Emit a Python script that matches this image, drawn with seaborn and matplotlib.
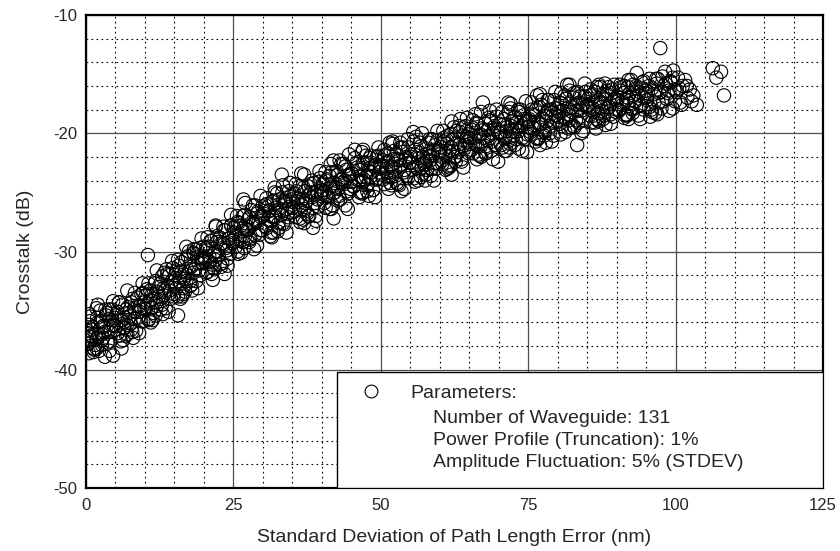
import seaborn as sns
import matplotlib.pyplot as plt
import numpy as np
import pandas as pd
from matplotlib.ticker import MultipleLocator
from matplotlib.patches import Rectangle
from matplotlib.lines import Line2D

# path length error (nm) / crosstalk (dB) in chunks
err_a = [0.2, 0.4, 0.5, 0.7, 0.9, 1.1, 1.3, 1.8, 1.8, 2.0, 2.2, 2.5, 2.7, 3.0, 3.2, 3.5, 3.8, 4.1, 4.4, 4.7, 0.3, 1.6, 2.9, 4.0, 4.6,
         5.1, 5.4, 5.6, 5.9, 6.2, 6.5, 6.8, 7.0, 7.3, 7.6, 7.9, 8.2, 8.5, 8.8, 9.1, 9.4, 9.7, 9.9, 6.0, 8.0,
         10.1, 10.3, 10.6, 10.9, 11.2, 11.5, 11.8, 12.0, 12.3, 12.6, 12.9, 13.2, 13.5, 13.8, 14.1, 14.4, 14.7, 14.9, 11.0, 13.0, 10.5,
         15.1, 15.3, 15.6, 15.9, 16.2, 16.5, 16.8, 17.0, 17.3, 17.6, 17.9, 18.2, 18.5, 18.8, 19.1, 19.4, 19.7, 19.9, 16.0, 18.0, 15.6,
         20.1, 20.4, 20.7, 21.0, 21.3, 21.6, 21.9, 22.2, 22.5, 22.8, 23.1, 23.4, 23.7, 24.0, 24.3, 24.6, 24.9, 21.5, 23.5, 22.0]
xt_a = [-37.8, -36.2, -38.6, -35.5, -37.1, -36.6, -38.2, -34.8, -37.4, -36.0, -38.4, -35.9, -37.0, -36.4, -38.9, -35.2, -36.8, -37.6, -35.8, -36.3, -36.9, -37.9, -37.3, -34.9, -38.8,
        -35.4, -36.9, -34.3, -37.6, -35.8, -36.4, -34.9, -37.0, -35.2, -36.1, -34.0, -35.7, -36.7, -34.6, -35.1, -33.6, -35.9, -34.3, -38.2, -37.3,
        -34.9, -33.2, -35.8, -34.1, -33.6, -35.2, -32.5, -34.6, -33.0, -34.0, -32.1, -33.7, -34.8, -31.9, -33.3, -32.6, -31.4, -33.8, -36.0, -35.3, -30.3,
        -32.9, -31.6, -33.8, -32.2, -30.9, -33.1, -31.7, -32.5, -30.4, -31.2, -32.8, -30.1, -31.5, -29.8, -31.0, -32.0, -30.6, -29.6, -34.0, -33.3, -35.4,
        -30.5, -31.8, -29.6, -30.9, -29.1, -31.4, -30.0, -28.7, -30.3, -29.4, -31.0, -28.2, -29.7, -30.6, -28.9, -27.8, -29.3, -32.4, -31.9, -27.9]

err_b = [25.1, 25.4, 25.7, 26.0, 26.3, 26.6, 26.9, 27.2, 27.5, 27.8, 28.1, 28.4, 28.7, 29.0, 29.3, 29.6, 29.9, 26.7, 28.5, 25.8,
         30.1, 30.4, 30.7, 31.0, 31.3, 31.6, 31.9, 32.2, 32.5, 32.8, 33.1, 33.4, 33.7, 34.0, 34.3, 34.6, 34.9, 33.2, 33.4, 31.5, 32.0,
         35.1, 35.4, 35.7, 36.0, 36.3, 36.6, 36.9, 37.2, 37.5, 37.8, 38.1, 38.4, 38.7, 39.0, 39.3, 39.6, 39.9, 38.5, 36.5, 37.0,
         40.1, 40.4, 40.7, 41.0, 41.3, 41.6, 41.9, 42.2, 42.5, 42.8, 43.1, 43.4, 43.7, 44.0, 44.3, 44.6, 44.9, 44.4, 43.0, 41.5, 42.0,
         45.1, 45.4, 45.6, 46.0, 46.3, 46.6, 46.9, 47.2, 47.5, 47.8, 48.1, 48.4, 48.7, 49.0, 49.3, 49.6, 49.9, 46.8, 48.0, 47.0]
xt_b = [-28.4, -29.6, -27.5, -28.9, -27.8, -29.2, -26.9, -28.1, -27.3, -29.0, -26.5, -27.7, -28.6, -26.8, -27.4, -28.2, -26.2, -25.6, -29.8, -30.2,
        -27.0, -26.1, -28.0, -26.6, -27.4, -25.8, -27.0, -26.3, -28.3, -25.6, -26.9, -27.6, -25.9, -26.4, -27.1, -25.4, -26.7, -23.5, -24.4, -28.8, -25.0,
        -25.8, -26.6, -24.9, -25.5, -27.2, -26.1, -24.6, -25.9, -26.8, -25.2, -24.3, -26.3, -25.0, -27.0, -25.6, -24.1, -25.3, -28.0, -23.4, -27.6,
        -24.8, -25.9, -24.0, -25.3, -23.6, -26.4, -24.5, -25.0, -23.2, -24.7, -25.6, -23.9, -24.3, -22.8, -24.9, -23.5, -24.1, -26.4, -22.3, -22.6, -27.2,
        -23.4, -24.5, -21.4, -22.9, -24.0, -23.1, -25.0, -22.5, -23.7, -24.3, -22.1, -23.3, -24.8, -22.7, -23.9, -21.9, -23.0, -21.6, -25.3, -24.1]

err_c = [50.1, 50.4, 50.7, 51.0, 51.3, 51.6, 51.9, 52.2, 52.5, 52.8, 53.1, 53.4, 53.7, 54.0, 54.3, 54.6, 54.9, 52.0, 53.5, 51.5, 53.3,
         55.1, 55.4, 55.5, 55.8, 56.2, 56.5, 56.8, 57.1, 57.5, 57.8, 58.1, 58.4, 58.7, 59.0, 59.3, 59.6, 59.9, 57.5, 56.0, 58.5,
         60.1, 60.4, 60.7, 61.0, 61.3, 61.6, 61.9, 62.2, 62.5, 62.8, 63.1, 63.4, 63.7, 64.0, 64.3, 64.6, 64.9, 62.0, 63.5, 61.0,
         65.1, 65.4, 65.7, 66.0, 66.3, 66.6, 66.9, 67.3, 67.5, 67.8, 68.1, 68.4, 68.7, 69.0, 69.3, 69.6, 69.9, 66.0, 68.5, 67.0,
         70.1, 70.4, 70.7, 71.0, 71.3, 71.6, 71.9, 72.2, 72.5, 72.8, 73.1, 73.4, 73.7, 74.0, 74.3, 74.8, 74.9, 72.0, 73.5, 71.0]
xt_c = [-22.8, -23.9, -21.9, -23.3, -22.4, -24.2, -22.9, -21.5, -23.6, -22.2, -24.4, -22.7, -21.2, -23.1, -22.0, -23.8, -22.5, -20.9, -24.9, -20.8, -20.8,
        -22.0, -23.1, -19.9, -24.1, -21.6, -22.7, -21.1, -23.4, -22.6, -22.2, -20.8, -21.9, -23.0, -21.4, -22.5, -20.6, -21.8, -24.0, -20.3, -23.6,
        -21.5, -22.6, -20.7, -21.9, -20.2, -22.9, -21.2, -20.5, -22.0, -19.8, -21.6, -20.9, -22.4, -19.5, -21.0, -20.3, -21.7, -23.5, -18.8, -23.1,
        -20.4, -21.4, -19.6, -20.9, -19.2, -21.8, -20.1, -17.4, -19.7, -21.1, -20.6, -18.9, -21.5, -20.0, -19.4, -21.0, -22.4, -18.4, -18.1, -22.0,
        -20.0, -21.0, -19.3, -20.5, -19.8, -17.4, -20.9, -19.0, -20.2, -18.6, -19.6, -21.3, -19.1, -20.4, -18.8, -21.6, -19.5, -17.9, -18.2, -21.5]

err_d = [75.1, 75.4, 75.7, 76.0, 76.3, 76.6, 76.9, 77.2, 77.5, 77.8, 78.1, 78.4, 78.7, 79.0, 79.3, 79.6, 79.9, 76.5, 78.0, 77.0,
         80.1, 80.4, 80.7, 81.0, 81.3, 81.6, 81.9, 82.2, 82.5, 82.8, 83.1, 83.3, 83.7, 84.0, 84.3, 84.6, 84.9, 82.0, 83.5, 80.5,
         85.1, 85.4, 85.7, 86.0, 86.3, 86.6, 86.9, 87.2, 87.5, 87.8, 88.1, 88.4, 88.7, 89.0, 89.3, 89.6, 89.9, 86.5, 88.0, 87.0,
         90.1, 90.4, 90.7, 91.0, 91.3, 91.6, 91.9, 92.2, 92.5, 92.8, 93.1, 93.4, 93.7, 94.0, 94.3, 94.6, 94.9, 95.7, 92.0,
         95.1, 95.5, 96.0, 96.4, 96.8, 97.2, 97.4, 97.6, 98.0, 98.2, 98.5, 98.8, 99.2, 99.6, 99.9, 96.0, 97.0,
         100.2, 100.4, 100.8, 101.2, 101.6, 102.0, 102.4, 103.0, 103.6, 106.3, 106.9, 107.7, 108.2]
xt_d = [-19.0, -20.1, -18.4, -19.6, -18.0, -20.5, -19.2, -17.6, -18.8, -19.9, -18.3, -17.2, -19.4, -18.6, -20.2, -17.9, -18.9, -16.8, -20.8, -21.0,
        -18.2, -19.2, -17.5, -18.7, -17.1, -15.9, -18.4, -19.5, -17.8, -16.6, -18.9, -21.0, -17.4, -18.1, -19.8, -16.9, -17.7, -16.4, -19.1, -20.1,
        -17.6, -18.5, -16.8, -17.9, -16.5, -18.8, -17.2, -16.1, -18.1, -17.5, -19.3, -16.7, -17.8, -18.4, -16.3, -17.1, -18.0, -19.6, -15.8, -19.0,
        -17.2, -18.1, -16.4, -17.6, -16.0, -18.4, -17.0, -16.6, -17.9, -15.9, -17.3, -14.9, -16.8, -17.7, -16.2, -18.0, -16.6, -18.6, -18.8,
        -16.9, -17.8, -16.2, -17.4, -15.8, -16.6, -12.8, -17.9, -16.0, -14.8, -17.1, -16.4, -15.7, -14.7, -17.3, -18.2, -15.4,
        -16.5, -15.3, -17.4, -16.0, -15.5, -17.0, -16.3, -16.8, -17.6, -14.5, -15.3, -14.8, -16.8]

# second pass over the dense core of the cloud
err_e = [0.15, 0.4, 0.65, 0.9, 1.15, 1.4, 1.65, 1.9, 2.15, 2.4, 2.65, 2.9, 3.15, 3.4, 3.65, 3.9, 4.15, 4.4, 4.65, 4.85,
         5.1, 5.35, 5.7, 5.85, 6.2, 6.45, 6.6, 6.95, 7.1, 7.45, 7.7, 7.85, 8.2, 8.35, 8.7, 8.85, 9.2, 9.35, 9.7, 9.9,
         10.15, 10.4, 10.65, 10.9, 11.15, 11.4, 11.65, 11.9, 12.15, 12.4, 12.65, 12.9, 13.15, 13.4, 13.65, 13.9, 14.15, 14.4, 14.65, 14.85,
         15.1, 15.35, 15.7, 15.85, 16.2, 16.45, 16.6, 16.95, 17.1, 17.45, 17.7, 17.85, 18.2, 18.35, 18.7, 18.85, 19.2, 19.35, 19.7, 19.9,
         20.15, 20.4, 20.65, 20.9, 21.15, 21.4, 21.65, 21.9, 22.15, 22.4, 22.65, 22.9, 23.15, 23.4, 23.65, 23.9, 24.15, 24.4, 24.65, 24.85]
xt_e = [-36.7, -37.8, -35.9, -37.2, -36.4, -38.3, -37.0, -35.6, -37.0, -35.0, -37.5, -36.3, -36.8, -35.4, -37.7, -35.7, -36.8, -34.9, -36.2, -35.6,
        -36.3, -35.1, -37.1, -35.8, -34.5, -36.5, -35.6, -36.2, -34.7, -35.5, -34.3, -36.8, -34.8, -35.1, -33.9, -35.6, -34.6, -35.9, -33.5, -34.8,
        -33.7, -34.4, -35.7, -33.3, -34.8, -34.0, -32.7, -34.3, -33.4, -33.8, -32.7, -34.5, -33.1, -33.3, -31.5, -32.9, -32.0, -34.0, -32.5, -33.6,
        -32.0, -33.1, -31.2, -32.5, -31.7, -33.6, -32.3, -30.6, -32.0, -30.0, -32.5, -31.3, -31.8, -30.2, -32.5, -30.5, -31.6, -29.7, -31.0, -30.4,
        -30.9, -29.7, -31.7, -30.4, -29.1, -31.1, -30.2, -30.7, -29.2, -30.0, -28.8, -31.3, -29.3, -29.4, -28.2, -29.9, -28.9, -30.2, -27.8, -29.1]

err_f = [25.1, 25.35, 25.7, 25.85, 26.2, 26.45, 26.6, 26.95, 27.1, 27.45, 27.7, 27.85, 28.2, 28.35, 28.7, 28.85, 29.2, 29.35, 29.7, 29.9,
         30.15, 30.4, 30.65, 30.9, 31.15, 31.4, 31.65, 31.9, 32.15, 32.4, 32.65, 32.9, 33.15, 33.4, 33.65, 33.9, 34.15, 34.4, 34.65, 34.85,
         35.1, 35.35, 35.7, 35.85, 36.2, 36.45, 36.6, 36.95, 37.1, 37.45, 37.7, 37.85, 38.2, 38.35, 38.7, 38.85, 39.2, 39.35, 39.7, 39.9,
         40.15, 40.4, 40.65, 40.9, 41.15, 41.4, 41.65, 41.9, 42.15, 42.4, 42.65, 42.9, 43.15, 43.4, 43.65, 43.9, 44.15, 44.4, 44.65, 44.85,
         45.1, 45.35, 45.7, 45.85, 46.2, 46.45, 46.6, 46.95, 47.1, 47.45, 47.7, 47.85, 48.2, 48.35, 48.7, 48.85, 49.2, 49.35, 49.7, 49.9]
xt_f = [-28.0, -28.7, -30.0, -27.6, -29.1, -28.3, -27.0, -28.7, -27.8, -28.2, -27.1, -28.9, -27.5, -27.7, -26.1, -27.5, -26.6, -28.6, -27.1, -28.2,
        -26.8, -27.9, -26.0, -27.3, -26.5, -28.4, -27.1, -25.7, -27.1, -25.1, -27.6, -26.4, -26.9, -25.7, -27.7, -25.7, -26.8, -24.9, -26.2, -25.6,
        -26.3, -25.1, -27.1, -25.8, -24.5, -26.5, -25.6, -26.4, -24.9, -25.7, -24.5, -27.0, -25.0, -25.4, -24.2, -25.9, -24.9, -26.2, -23.8, -25.1,
        -24.3, -25.0, -26.3, -23.9, -25.4, -24.6, -23.3, -25.1, -24.2, -24.6, -23.5, -25.3, -23.9, -24.2, -22.6, -24.0, -23.1, -25.1, -23.6, -24.7,
        -23.4, -24.5, -22.6, -23.9, -23.1, -25.0, -23.7, -22.5, -23.9, -21.9, -24.4, -23.2, -23.7, -22.5, -24.8, -22.8, -23.9, -22.0, -23.3, -22.7]

err_g = [50.15, 50.4, 50.65, 50.9, 51.15, 51.4, 51.65, 51.9, 52.15, 52.4, 52.65, 52.9, 53.15, 53.4, 53.65, 53.9, 54.15, 54.4, 54.65, 54.85,
         55.1, 55.35, 55.7, 55.85, 56.2, 56.45, 56.6, 56.95, 57.1, 57.45, 57.7, 57.85, 58.2, 58.35, 58.7, 58.85, 59.2, 59.35, 59.7, 59.9,
         60.15, 60.4, 60.65, 60.9, 61.15, 61.4, 61.65, 61.9, 62.15, 62.4, 62.65, 62.9, 63.15, 63.4, 63.65, 63.9, 64.15, 64.4, 64.65, 64.85,
         65.1, 65.35, 65.7, 65.85, 66.2, 66.45, 66.6, 66.95, 67.1, 67.45, 67.7, 67.85, 68.2, 68.35, 68.7, 68.85, 69.2, 69.35, 69.7, 69.9,
         70.15, 70.4, 70.65, 70.9, 71.15, 71.4, 71.65, 71.9, 72.15, 72.4, 72.65, 72.9, 73.15, 73.4, 73.65, 73.9, 74.15, 74.4, 74.65, 74.85]
xt_g = [-23.5, -22.3, -24.3, -23.0, -21.7, -23.7, -22.8, -23.7, -22.2, -23.0, -21.8, -24.3, -22.3, -22.8, -21.6, -23.3, -22.3, -23.6, -21.2, -22.5,
        -21.8, -22.5, -23.8, -21.4, -22.9, -22.1, -20.8, -22.9, -22.0, -22.4, -21.3, -23.1, -21.7, -22.3, -20.5, -21.9, -21.0, -23.0, -21.5, -22.6,
        -21.2, -22.3, -20.4, -21.7, -20.9, -22.8, -21.5, -20.1, -21.5, -19.5, -22.0, -20.8, -21.3, -19.9, -22.2, -20.2, -21.3, -19.4, -20.7, -20.1,
        -20.9, -19.7, -21.7, -20.4, -19.1, -21.1, -20.2, -21.1, -19.6, -20.4, -19.2, -21.7, -19.7, -20.2, -19.0, -20.7, -19.7, -21.0, -18.6, -19.9,
        -19.2, -19.9, -21.2, -18.8, -20.3, -19.5, -18.2, -20.3, -19.4, -19.8, -18.7, -20.5, -19.1, -19.8, -18.0, -19.4, -18.5, -20.5, -19.0, -20.1]

err_h = [75.15, 75.4, 75.65, 75.9, 76.15, 76.4, 76.65, 76.9, 77.15, 77.4, 77.65, 77.9, 78.15, 78.4, 78.65, 78.9, 79.15, 79.4, 79.65, 79.85,
         80.1, 80.35, 80.7, 80.85, 81.2, 81.45, 81.6, 81.95, 82.1, 82.45, 82.7, 82.85, 83.2, 83.35, 83.7, 83.85, 84.2, 84.35, 84.7, 84.9,
         85.15, 85.4, 85.65, 85.9, 86.15, 86.4, 86.65, 86.9, 87.15, 87.4, 87.65, 87.9, 88.15, 88.4, 88.65, 88.9, 89.15, 89.4, 89.65, 89.85,
         90.1, 90.35, 90.7, 90.85, 91.2, 91.45, 91.6, 91.95, 92.1, 92.45, 92.7, 92.85, 93.2, 93.35, 93.7, 93.85, 94.2, 94.35, 94.7, 94.9,
         95.15, 95.5, 95.9, 96.3, 96.7, 97.1, 97.5, 97.9, 98.3, 98.7, 99.1, 99.5, 99.8, 96.5,
         100.6, 101.0, 101.9, 102.7]
xt_h = [-18.8, -19.9, -18.0, -19.3, -18.5, -20.4, -19.1, -17.8, -19.2, -17.2, -19.7, -18.5, -19.0, -18.0, -20.0, -18.0, -19.1, -17.2, -18.5, -17.9,
        -18.6, -17.4, -19.4, -18.1, -16.8, -18.8, -17.9, -18.9, -17.4, -18.2, -17.0, -19.5, -17.5, -18.1, -16.9, -18.6, -17.6, -18.9, -16.5, -17.8,
        -17.1, -17.8, -19.1, -16.7, -18.2, -17.4, -16.1, -18.3, -17.4, -17.8, -16.7, -18.5, -17.1, -17.9, -16.1, -17.5, -16.6, -18.6, -17.1, -18.2,
        -16.9, -18.0, -16.1, -17.4, -16.6, -18.5, -17.2, -16.1, -17.5, -15.5, -18.0, -16.8, -17.3, -16.2, -18.5, -16.5, -17.6, -15.7, -17.0, -16.4,
        -17.2, -16.0, -18.0, -16.7, -15.4, -17.4, -16.5, -17.3, -15.8, -16.6, -15.6, -17.9, -16.3, -18.3,
        -16.2, -17.6, -16.0, -17.3]

# points along the upper and lower fringe of the band
err_i = [0.6, 1.3, 2.0, 2.7, 3.3, 4.0, 4.6, 1.8,
         5.6, 6.3, 7.0, 7.7, 8.3, 9.0, 9.6, 6.8,
         10.6, 11.3, 12.0, 12.7, 13.3, 14.0, 14.6, 11.8,
         15.6, 16.3, 17.0, 17.7, 18.3, 19.0, 19.6, 16.8,
         20.6, 21.3, 22.0, 22.7, 23.3, 24.0, 24.6, 21.8,
         25.6, 26.3, 27.0, 27.7, 28.3, 29.0, 29.6, 26.8,
         30.6, 31.3, 32.0, 32.7, 33.3, 34.0, 34.6, 31.8,
         35.6, 36.3, 37.0, 37.7, 38.3, 39.0, 39.6, 36.8,
         40.6, 41.3, 42.0, 42.7, 43.3, 44.0, 44.6, 41.8,
         45.6, 46.3, 47.0, 47.7, 48.3, 49.0, 49.6, 46.8]
xt_i = [-35.3, -38.5, -34.5, -37.9, -34.9, -38.4, -34.2, -38.2,
        -34.3, -37.5, -33.3, -36.6, -33.5, -36.9, -32.7, -37.1,
        -32.7, -35.8, -31.6, -34.9, -31.8, -35.1, -30.8, -35.4,
        -30.7, -33.8, -29.6, -32.9, -29.8, -33.1, -28.9, -33.4,
        -28.8, -31.9, -27.8, -31.1, -27.9, -31.2, -26.9, -31.5,
        -27.0, -30.1, -25.9, -29.2, -26.1, -29.5, -25.3, -29.7,
        -25.5, -28.7, -24.6, -28.0, -25.0, -28.4, -24.2, -28.4,
        -24.3, -27.5, -23.5, -27.0, -24.0, -27.4, -23.2, -27.3,
        -23.3, -26.4, -22.3, -25.7, -22.6, -26.1, -21.8, -26.1,
        -22.1, -25.4, -21.4, -24.9, -21.9, -25.4, -21.2, -25.1]

err_j = [50.6, 51.3, 52.0, 52.7, 53.3, 54.0, 54.6, 51.8,
         55.6, 56.3, 57.0, 57.7, 58.3, 59.0, 59.6, 56.8,
         60.6, 61.3, 62.0, 62.7, 63.3, 64.0, 64.6, 61.8,
         65.6, 66.3, 67.0, 67.7, 68.3, 69.0, 69.6, 66.8,
         70.6, 71.3, 72.0, 72.7, 73.3, 74.0, 74.6, 71.8,
         75.6, 76.3, 77.0, 77.7, 78.3, 79.0, 79.6, 76.8,
         80.6, 81.3, 82.0, 82.7, 83.3, 84.0, 84.6, 81.8,
         85.6, 86.3, 87.0, 87.7, 88.3, 89.0, 89.6, 86.8,
         90.6, 91.3, 92.0, 92.7, 93.3, 94.0, 94.6, 91.8,
         95.6, 96.9, 97.8, 98.9, 99.5]
xt_j = [-21.4, -24.7, -20.7, -24.2, -21.2, -24.7, -20.5, -24.4,
        -20.7, -24.0, -20.0, -23.5, -20.5, -24.0, -19.8, -23.7,
        -19.8, -23.0, -19.0, -22.4, -19.4, -22.9, -18.7, -22.7,
        -18.9, -22.2, -18.2, -21.7, -18.7, -22.2, -18.0, -21.9,
        -18.2, -21.5, -17.5, -21.0, -18.0, -21.5, -17.3, -21.2,
        -17.4, -20.7, -16.7, -20.2, -17.2, -20.7, -16.5, -20.4,
        -16.6, -19.9, -15.9, -19.4, -16.5, -20.0, -15.8, -19.6,
        -16.3, -19.1, -15.9, -18.8, -16.4, -19.2, -15.9, -18.9,
        -15.9, -18.7, -15.5, -18.3, -16.0, -18.8, -15.6, -18.5,
        -15.4, -18.4, -15.2, -18.1, -15.3]

params = ["Number of Waveguide: 131",
          "Power Profile (Truncation): 1%",
          "Amplitude Fluctuation: 5% (STDEV)"]

df = pd.DataFrame({
    "err": err_a + err_b + err_c + err_d + err_e + err_f + err_g + err_h + err_i + err_j,
    "xt": xt_a + xt_b + xt_c + xt_d + xt_e + xt_f + xt_g + xt_h + xt_i + xt_j,
})

sns.set_style("white")
plt.rcParams['font.family'] = ['Liberation Sans', 'DejaVu Sans']
plt.rcParams['axes.unicode_minus'] = False

fig = plt.figure(figsize=(8.4, 5.51), dpi=100)
ax = fig.add_axes([0.1024, 0.1143, 0.8774, 0.8585])

sns.scatterplot(data=df, x="err", y="xt", ax=ax, marker="o", s=92,
                facecolors="none", edgecolor="black", linewidth=0.8, zorder=3)

ax.set_xlim(0, 125)
ax.set_ylim(-50, -10)
ax.xaxis.set_major_locator(MultipleLocator(25))
ax.xaxis.set_minor_locator(MultipleLocator(5))
ax.yaxis.set_major_locator(MultipleLocator(10))
ax.yaxis.set_minor_locator(MultipleLocator(2))
ax.set_axisbelow(True)
ax.grid(which="major", color="0.3", lw=0.9, ls="-")
ax.grid(which="minor", color="black", lw=0.8, ls=(0, (1.5, 3)))
ax.tick_params(which="both", direction="in", length=3, width=0.8)
ax.tick_params(axis="x", labelsize=12, pad=7)
ax.tick_params(axis="y", labelsize=12, pad=6)
for sp in ax.spines.values():
    sp.set_color("black")
    sp.set_linewidth(1.6)

ax.set_xlabel("Standard Deviation of Path Length Error (nm)", fontsize=14, labelpad=12)
ax.set_ylabel("Crosstalk (dB)", fontsize=14, labelpad=14)

# parameter box in the lower right
ax.add_patch(Rectangle((0.3406, 0.0), 0.6594, 0.245, transform=ax.transAxes,
                       facecolor="white", edgecolor="black", lw=1.0, zorder=5))
h = Line2D([], [], marker="o", ls="", ms=9.2, mfc="none", mec="black", mew=0.8)
leg = ax.legend([h], ["Parameters:"], loc="upper left", bbox_to_anchor=(0.35, 0.235),
                frameon=False, fontsize=14, handletextpad=1.0, borderaxespad=0)
leg.set_zorder(6)
for i, line in enumerate(params):
    ax.text(0.471, 0.146 - i * 0.0465, line, transform=ax.transAxes,
            fontsize=14, va="center", ha="left", zorder=6)

fig.savefig("out.png", dpi=100)
